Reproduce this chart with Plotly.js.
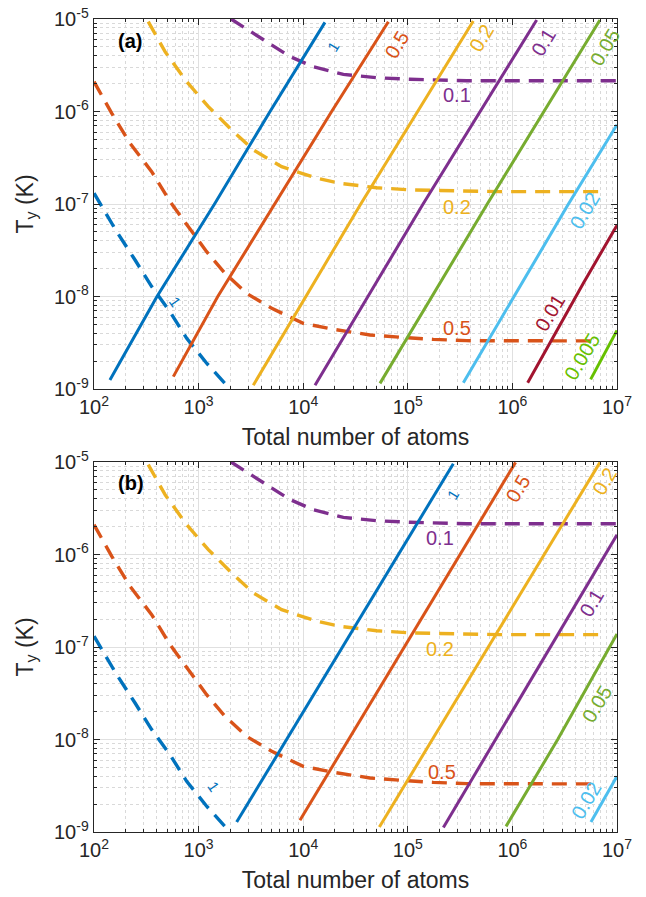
<!DOCTYPE html>
<html>
<head>
<meta charset="utf-8">
<script src="https://cdn.plot.ly/plotly-3.0.1.min.js"></script>
<style>html,body{margin:0;padding:0;background:#fff;}#plot{width:646px;height:897px;}</style>
</head>
<body>
<div id="plot"></div>
<script>
// ---------- tick labels ----------
const xTickVals = [1e2, 1e3, 1e4, 1e5, 1e6, 1e7];
const xTickText = ['10<sup>2</sup>','10<sup>3</sup>','10<sup>4</sup>','10<sup>5</sup>','10<sup>6</sup>','10<sup>7</sup>'];
const yTickVals = [1e-9, 1e-8, 1e-7, 1e-6, 1e-5];
const yTickText = ['10<sup>-9</sup>','10<sup>-8</sup>','10<sup>-7</sup>','10<sup>-6</sup>','10<sup>-5</sup>'];

// ---------- dashed curves (same in both panels) ----------
const dash1N = [100, 165, 247, 356, 533, 769, 1194, 1786];
const dash1T = [1.31e-7, 5.01e-8, 2.48e-8, 1.28e-8, 6.85e-9, 3.53e-9, 1.90e-9, 1.15e-9];
const dash05N = [100, 148, 221, 356, 533, 828, 1194, 1786, 2884, 5000, 1.0e4, 19410, 43550, 84140, 175400, 365600, 6.4e6];
const dash05T = [2.10e-6, 9.55e-7, 4.53e-7, 2.24e-7, 1.06e-7, 5.46e-8, 3.05e-8, 1.78e-8, 1.08e-8, 7.45e-9, 5.13e-9, 4.42e-9, 3.84e-9, 3.63e-9, 3.44e-9, 3.33e-9, 3.31e-9];
const dash02N = [330, 478, 769, 1239, 1995, 3334, 6223, 13460, 22490, 50470, 105000, 252900, 760300, 7.41e6];
const dash02T = [9.35e-6, 4.44e-6, 2.10e-6, 1.13e-6, 6.58e-7, 3.84e-7, 2.53e-7, 1.90e-7, 1.67e-7, 1.50e-7, 1.42e-7, 1.38e-7, 1.36e-7, 1.36e-7];
const dash01N = [2042, 4159, 7482, 12500, 24210, 50470, 105000, 365600, 1e7];
const dash01T = [1.0e-5, 5.93e-6, 3.92e-6, 3.05e-6, 2.52e-6, 2.32e-6, 2.23e-6, 2.15e-6, 2.15e-6];

// ---------- solid curves, panel (a) ----------
const a1N = [142, 400, 1420, 4820, 16140];
const a1T = [1.25e-9, 1.0e-8, 1.0e-7, 1.0e-6, 9.2e-6];
const a05N = [573, 1525, 18700, 65160];
const a05T = [1.36e-9, 1.0e-8, 1.0e-6, 9.35e-6];
const a02N = [3334, 35500, 422700];
const a02T = [1.10e-9, 1.0e-7, 9.51e-6];
const a01N = [12970, 140000, 1.706e6];
const a01T = [1.10e-9, 1.0e-7, 9.75e-6];
const a005N = [54200, 575000, 6.871e6];
const a005T = [1.15e-9, 1.0e-7, 9.75e-6];
const a002N = [339600, 3.4e6, 1e7];
const a002T = [1.17e-9, 9.8e-8, 7.2e-7];
const a001N = [1.4e6, 4.764e6, 1e7];
const a001T = [1.17e-9, 1.39e-8, 5.9e-8];
const a0005N = [5.598e6, 1e7];
const a0005T = [1.27e-9, 4.3e-9];

// ---------- solid curves, panel (b) ----------
const b1N = [2312, 23700, 272300];
const b1T = [1.28e-9, 1.0e-7, 9.59e-6];
const b05N = [9311, 92700, 1.072e6];
const b05T = [1.34e-9, 1.0e-7, 9.91e-6];
const b02N = [53460, 587500, 6.871e6];
const b02T = [1.13e-9, 1.0e-7, 9.91e-6];
const b01N = [218800, 2.30e6, 1e7];
const b01T = [1.12e-9, 1.0e-7, 1.63e-6];
const b005N = [868900, 2.71e6, 1e7];
const b005T = [1.15e-9, 1.0e-8, 1.38e-7];
const b002N = [5.636e6, 1e7];
const b002T = [1.28e-9, 4.0e-9];

// ---------- colours ----------
const C = {
  blue: '#0072BD', orange: '#D95319', yellow: '#EDB120', purple: '#7E2F8E',
  green: '#77AC30', cyan: '#4DBEEE', dred: '#A2142F', lgreen: '#66C000'
};

const traces = [];
function dashed(x, y, color, xa, ya) {
  traces.push({x: x, y: y, xaxis: xa, yaxis: ya, mode: 'lines', type: 'scatter',
    line: {color: color, width: 3.4, dash: '15px,9px'}, hoverinfo: 'skip', showlegend: false});
}
function solid(x, y, color, xa, ya) {
  traces.push({x: x, y: y, xaxis: xa, yaxis: ya, mode: 'lines', type: 'scatter',
    line: {color: color, width: 3}, hoverinfo: 'skip', showlegend: false});
}
[['x','y'],['x2','y2']].forEach(function(p){
  dashed(dash1N, dash1T, C.blue, p[0], p[1]);
  dashed(dash05N, dash05T, C.orange, p[0], p[1]);
  dashed(dash02N, dash02T, C.yellow, p[0], p[1]);
  dashed(dash01N, dash01T, C.purple, p[0], p[1]);
});
solid(a1N, a1T, C.blue, 'x', 'y');
solid(a05N, a05T, C.orange, 'x', 'y');
solid(a02N, a02T, C.yellow, 'x', 'y');
solid(a01N, a01T, C.purple, 'x', 'y');
solid(a005N, a005T, C.green, 'x', 'y');
solid(a002N, a002T, C.cyan, 'x', 'y');
solid(a001N, a001T, C.dred, 'x', 'y');
solid(a0005N, a0005T, C.lgreen, 'x', 'y');
solid(b1N, b1T, C.blue, 'x2', 'y2');
solid(b05N, b05T, C.orange, 'x2', 'y2');
solid(b02N, b02T, C.yellow, 'x2', 'y2');
solid(b01N, b01T, C.purple, 'x2', 'y2');
solid(b005N, b005T, C.green, 'x2', 'y2');
solid(b002N, b002T, C.cyan, 'x2', 'y2');

const FONT = 'Liberation Sans, Arial, sans-serif';
const AX = '#262626';
function xaxis(anchor) {
  return {
    type: 'log', range: [2, 7], anchor: anchor, automargin: false,
    tickmode: 'array', tickvals: xTickVals, ticktext: xTickText,
    ticks: 'inside', ticklen: 6, tickcolor: AX, tickwidth: 1,
    showline: true, linecolor: AX, linewidth: 1.3, mirror: 'allticks',
    showgrid: true, gridcolor: '#e0e0e0', gridwidth: 1,
    zeroline: false,
    tickfont: {family: FONT, size: 20, color: AX},
    minor: {dtick: 'D1', ticks: 'inside', ticklen: 3, tickcolor: AX,
            showgrid: true, gridcolor: '#d9d9d9', griddash: 'dot', gridwidth: 1},
    title: {text: 'Total number of atoms', font: {family: FONT, size: 23, color: AX}, standoff: 11}
  };
}
function yaxis(anchor, domain) {
  return {
    type: 'log', range: [-9, -5], anchor: anchor, domain: domain, automargin: false,
    tickmode: 'array', tickvals: yTickVals, ticktext: yTickText,
    ticks: 'inside', ticklen: 6, tickcolor: AX, tickwidth: 1,
    showline: true, linecolor: AX, linewidth: 1.3, mirror: 'allticks',
    showgrid: true, gridcolor: '#e0e0e0', gridwidth: 1,
    zeroline: false,
    tickfont: {family: FONT, size: 20, color: AX},
    minor: {dtick: 'D1', ticks: 'inside', ticklen: 3, tickcolor: AX,
            showgrid: true, gridcolor: '#d9d9d9', griddash: 'dot', gridwidth: 1},
    title: {text: 'T<sub>y</sub> (K)', font: {family: FONT, size: 23, color: AX}, standoff: 14}
  };
}

// ---------- contour-style labels ----------
const labelText  = ['1','0.5','0.2','0.1','0.05','0.02','0.01','0.005','0.1','0.2','0.5','1'];
const labelNa    = [1.94e4, 7.83e4, 5.09e5, 1.98e6, 7.67e6, 4.94e6, 2.29e6, 4.6e6, 2.93e5, 2.93e5, 2.93e5, 594];
const labelTa    = [5.02e-6, 5.24e-6, 6.18e-6, 5.69e-6, 5.02e-6, 8.6e-8, 6.58e-9, 2.23e-9, 1.51e-6, 9.35e-8, 4.53e-9, 8.8e-9];
const labelColA  = [C.blue, C.orange, C.yellow, C.purple, C.green, C.cyan, C.dred, C.lgreen, C.purple, C.yellow, C.orange, C.blue];
const labelAngA  = [-59, -59, -59, -59, -59, -59, -59, -59, 0, 0, 0, 55];

const labelTextB = ['1','0.5','0.2','0.1','0.05','0.02','0.1','0.2','0.5','1'];
const labelNb    = [2.72e5, 1.14e6, 7.67e6, 5.73e6, 6.4e6, 5.13e6, 2.03e5, 2.03e5, 2.11e5, 1384];
const labelTb    = [4.43e-6, 5.22e-6, 6.17e-6, 2.97e-7, 2.45e-8, 2.2e-9, 1.5e-6, 9.44e-8, 4.47e-9, 3.07e-9];
const labelColB  = [C.blue, C.orange, C.yellow, C.purple, C.green, C.cyan, C.purple, C.yellow, C.orange, C.blue];
const labelAngB  = [-59, -59, -59, -59, -59, -59, 0, 0, 0, 55];

const annotations = [];
function addLabels(texts, Ns, Ts, cols, angs, xr, yr) {
  texts.forEach(function(t, i){
    annotations.push({x: Math.log10(Ns[i]), y: Math.log10(Ts[i]), xref: xr, yref: yr,
      text: t, showarrow: false, textangle: angs[i],
      font: {family: FONT, size: t === '1' ? 15 : 20, color: cols[i]}});
  });
}
addLabels(labelText, labelNa, labelTa, labelColA, labelAngA, 'x', 'y');
addLabels(labelTextB, labelNb, labelTb, labelColB, labelAngB, 'x2', 'y2');
annotations.push({x: Math.log10(220), y: Math.log10(5.8e-6), xref: 'x', yref: 'y', text: '<b>(a)</b>',
  showarrow: false, font: {family: FONT, size: 20, color: '#000'}});
annotations.push({x: Math.log10(228), y: Math.log10(6.0e-6), xref: 'x2', yref: 'y2', text: '<b>(b)</b>',
  showarrow: false, font: {family: FONT, size: 20, color: '#000'}});

const layout = {
  width: 646, height: 897,
  margin: {l: 94, r: 29, t: 19, b: 65},
  paper_bgcolor: '#fff', plot_bgcolor: '#fff',
  showlegend: false,
  xaxis: xaxis('y'),
  yaxis: yaxis('x', [0.5449, 1]),
  xaxis2: xaxis('y2'),
  yaxis2: yaxis('x2', [0, 0.4551]),
  annotations: annotations
};

Plotly.newPlot('plot', traces, layout, {staticPlot: true, displayModeBar: false});
</script>
</body>
</html>
